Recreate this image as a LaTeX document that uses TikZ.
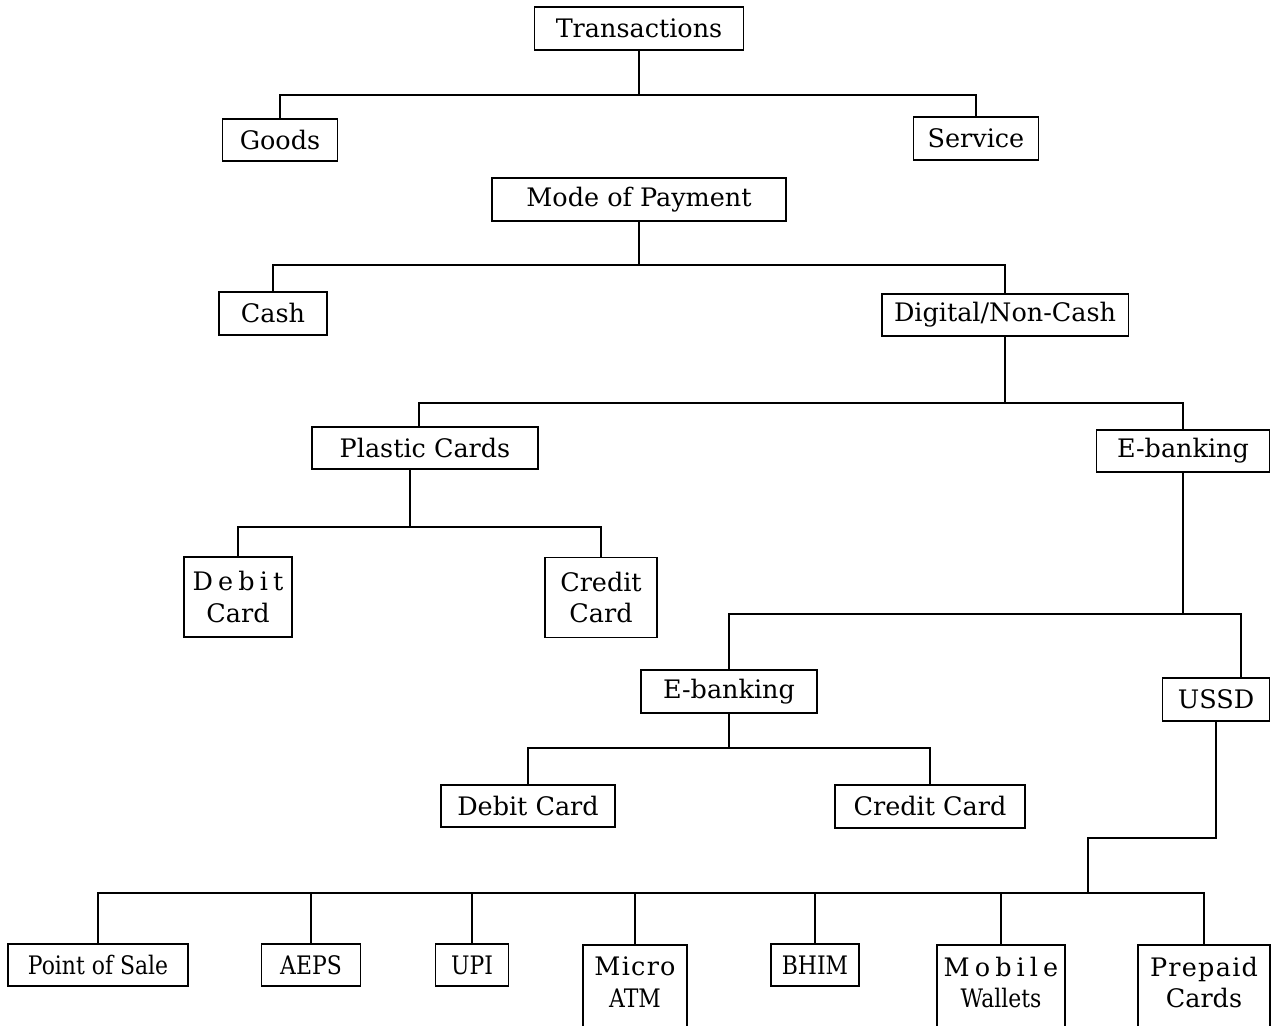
\documentclass[tikz,border=0pt]{standalone}
\usepackage{fontspec}
\setmainfont{DejaVu Serif}
\newfontfamily\narrowfont[FakeStretch=0.86]{DejaVu Serif}
\usetikzlibrary{calc}

\tikzset{
  box/.style={draw,line width=1.1pt,inner sep=0pt,align=center,minimum height=0.85cm},
  twobox/.style={box,minimum height=1.6cm},
  lowbox/.style={draw,line width=1.1pt,inner xsep=0pt,inner ysep=0.24cm,align=center,anchor=north},
  link/.style={line width=1.1pt},
}
\newcommand{\spaced}[2]{{\addfontfeatures{LetterSpace=#1}#2}}
\newcommand{\deep}{\rule[-0.22cm]{0pt}{0pt}}

\begin{document}
\begin{tikzpicture}[x=0.02cm,y=-0.02cm,font=\fontsize{14.5}{18}\selectfont]
\useasboundingbox (0,0) rectangle (1271,1026);
\fill[white] (0,0) rectangle (1271,1026);

% first tree
\node[box,minimum width=4.18cm] (trans) at (639,28.5) {Transactions};
\node[box,minimum width=2.30cm] (goods) at (280,140) {Goods};
\node[box,minimum width=2.50cm] (service) at (976,138.5) {Service};

% mode of payment
\node[box,minimum width=5.88cm] (mode) at (639,199.5) {Mode of Payment};
\node[box,minimum width=2.16cm] (cash) at (273,313.5) {Cash};
\node[box,minimum width=4.94cm] (digital) at (1005,315) {Digital/Non-Cash};

\node[box,minimum width=4.52cm] (plastic) at (425,448) {Plastic Cards};
\node[box,minimum width=3.46cm] (ebankR) at (1183,451) {E-banking};

\node[twobox,minimum width=2.16cm] (debit) at (238,597) {\spaced{20}{Debit}\\Card};
\node[twobox,minimum width=2.24cm] (credit) at (601,597.5) {Credit\\Card};

\node[box,minimum width=3.52cm] (ebankM) at (729,691.5) {E-banking};
\node[box,minimum width=2.14cm] (ussd) at (1216,699.5) {USSD};

\node[box,minimum width=3.48cm] (debitM) at (528,806) {Debit Card};
\node[box,minimum width=3.80cm] (creditM) at (930,806.5) {Credit Card};

% bottom row
\node[box,minimum width=3.60cm] (pos) at (98,965) {\narrowfont Point of Sale};
\node[box,minimum width=1.98cm] (aeps) at (311,965) {\narrowfont AEPS};
\node[box,minimum width=1.46cm] (upi) at (472,965) {\narrowfont UPI};
\node[lowbox,minimum width=2.08cm] (micro) at (635,944) {\spaced{5}{Micro}\\\narrowfont ATM\deep};
\node[box,minimum width=1.76cm] (bhim) at (815,965) {\narrowfont BHIM};
\node[lowbox,minimum width=2.56cm] (mobile) at (1001,944) {\spaced{20}{Mobile}\\\narrowfont Wallets\deep};
\node[lowbox,minimum width=2.64cm] (prepaid) at (1204,944) {\spaced{5}{Prepaid}\\Cards\deep};

% connectors
\coordinate (j1) at (639,95);
\draw[link] (trans.south) -- (j1);
\draw[link] (goods.north) |- (j1) -| (service.north);

\coordinate (j2) at (639,265);
\draw[link] (mode.south) -- (j2);
\draw[link] (cash.north) |- (j2) -| (digital.north);

\coordinate (j3) at (1005,403);
\draw[link] (digital.south) -- (j3);
\draw[link] ([xshift=-0.12cm]plastic.north) |- (j3) -| (ebankR.north);

\coordinate (j4) at (410,527);
\draw[link] ([xshift=-0.3cm]plastic.south) -- (j4);
\draw[link] (debit.north) |- (j4) -| (credit.north);

\coordinate (j5) at (1183,614);
\draw[link] (ebankR.south) -- (j5);
\draw[link] (ebankM.north) |- (j5) -| ([xshift=0.5cm]ussd.north);

\coordinate (j6) at (729,748);
\draw[link] (ebankM.south) -- (j6);
\draw[link] (debitM.north) |- (j6) -| (creditM.north);

\coordinate (k1) at (1088,838);
\coordinate (j7) at (1088,893);
\draw[link] (ussd.south) |- (k1) -- (j7);
\draw[link] (pos.north) |- (j7) -| (prepaid.north);
\foreach \n in {aeps,upi,micro,bhim,mobile}
  \draw[link] (\n.north) -- (\n.north |- j7);
\end{tikzpicture}
\end{document}
